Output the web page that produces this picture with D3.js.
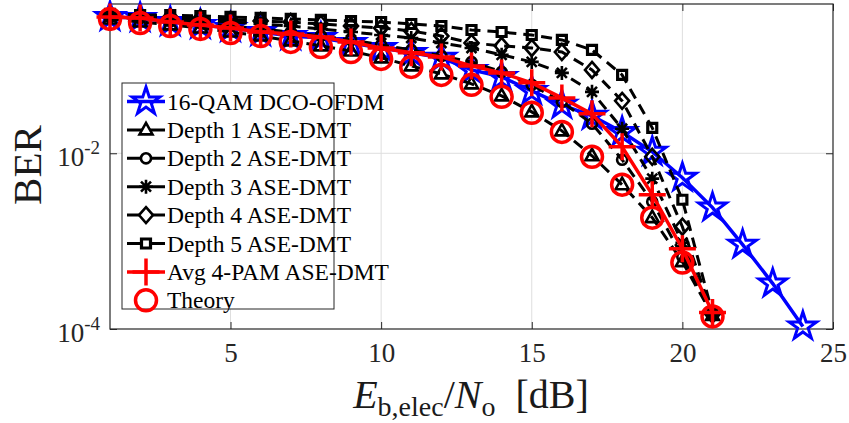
<!DOCTYPE html>
<html>
<head>
<meta charset="utf-8">
<script src="https://cdn.jsdelivr.net/npm/d3@7"></script>
<style>
  body { margin: 0; background: #fff; }
  svg { display: block; font-family: "Liberation Serif", "Times New Roman", serif; }
</style>
</head>
<body>
<svg width="849" height="423"></svg>
<script>
// Eb,elec/No in dB
var snrLong = d3.range(1, 25);   // 1..24 for DCO-OFDM
var snrShort = d3.range(1, 22);  // 1..21 for ASE-DMT / theory

var berDco = [0.356, 0.347, 0.312, 0.289, 0.267, 0.240, 0.216, 0.205, 0.180, 0.158, 0.139, 0.122,
    0.0889, 0.0740, 0.0513, 0.0356, 0.0267, 0.0175, 0.0104, 0.00527, 0.00241, 0.000913, 0.000329, 0.000107];
var berDepth1 = [0.338, 0.312, 0.289, 0.267, 0.240, 0.216, 0.190, 0.167, 0.146, 0.122, 0.0987, 0.0801,
    0.0617, 0.0450, 0.0296, 0.0180, 0.00937, 0.00439, 0.00185, 0.000584, 0.000143];
var berDepth2 = [0.356, 0.347, 0.320, 0.304, 0.281, 0.260, 0.240, 0.216, 0.195, 0.171, 0.150, 0.128,
    0.1096, 0.0844, 0.0601, 0.0385, 0.0217, 0.00844, 0.00281, 0.000666, 0.000146];
var berDepth3 = [0.365, 0.356, 0.338, 0.329, 0.312, 0.296, 0.281, 0.260, 0.240, 0.222, 0.205, 0.180,
    0.158, 0.132, 0.1096, 0.0822, 0.0500, 0.0190, 0.00514, 0.00096, 0.000146];
var berDepth4 = [0.375, 0.365, 0.356, 0.347, 0.329, 0.320, 0.312, 0.296, 0.281, 0.267, 0.247, 0.216,
    0.180, 0.167, 0.158, 0.142, 0.0889, 0.0395, 0.00913, 0.00146, 0.000146];
var berDepth5 = [0.385, 0.375, 0.375, 0.365, 0.356, 0.347, 0.338, 0.329, 0.320, 0.312, 0.296, 0.281,
    0.253, 0.240, 0.222, 0.195, 0.150, 0.0780, 0.0195, 0.00296, 0.000150];
var berAvg = [0.356, 0.347, 0.312, 0.289, 0.267, 0.240, 0.228, 0.211, 0.185, 0.158, 0.139, 0.125,
    0.0987, 0.0822, 0.0633, 0.0427, 0.0281, 0.01186, 0.00338, 0.00082, 0.000154];
var berTheory = [0.338, 0.304, 0.281, 0.260, 0.234, 0.216, 0.185, 0.162, 0.142, 0.1186, 0.0962, 0.0780,
    0.0601, 0.0439, 0.0289, 0.0175, 0.00913, 0.00439, 0.00185, 0.000570, 0.000139];

var xTicks = [5, 10, 15, 20, 25];
var yTicks = [1e-4, 1e-2];

var seriesList = [
    {name: "16-QAM DCO-OFDM",   x: snrLong,  y: berDco,    color: "#0000ff", dash: null,  marker: "star"},
    {name: "Depth 1 ASE-DMT",   x: snrShort, y: berDepth1, color: "#000000", dash: "11,7", marker: "triangle"},
    {name: "Depth 2 ASE-DMT",   x: snrShort, y: berDepth2, color: "#000000", dash: "11,7", marker: "circle"},
    {name: "Depth 3 ASE-DMT",   x: snrShort, y: berDepth3, color: "#000000", dash: "11,7", marker: "asterisk"},
    {name: "Depth 4 ASE-DMT",   x: snrShort, y: berDepth4, color: "#000000", dash: "11,7", marker: "diamond"},
    {name: "Depth 5 ASE-DMT",   x: snrShort, y: berDepth5, color: "#000000", dash: "11,7", marker: "square"},
    {name: "Avg 4-PAM ASE-DMT", x: snrShort, y: berAvg,    color: "#ff0000", dash: null,  marker: "plus"},
    {name: "Theory",            x: snrShort, y: berTheory, color: "#ff0000", dash: null,  marker: "ring", noLine: true}
];

var serif = "Liberation Serif";

// marker shapes, centred on 0,0
var markerPath = function(type) {
    if (type === "star") return d3.symbol(d3.symbolStar, 235)();
    if (type === "triangle") return "M0,-7L6.5,4.5L-6.5,4.5Z";
    if (type === "circle") return d3.symbol(d3.symbolCircle, 80)();
    if (type === "asterisk") return "M-7,0H7M0,-7V7M-5,-5L5,5M-5,5L5,-5";
    if (type === "diamond") return "M0,-8L7,0L0,8L-7,0Z";
    if (type === "square") return "M-4.5,-4.5H4.5V4.5H-4.5Z";
    if (type === "plus") return "M-13.5,0H13.5M0,-13.5V13.5";
    if (type === "ring") return d3.symbol(d3.symbolCircle, 346)();
    return "";
};
var markerWidth = {star: 3, triangle: 2.6, circle: 2.6, asterisk: 2.6, diamond: 2.6, square: 3.2, plus: 3.5, ring: 3.5};

var drawChart = function() {
    let svg = d3.select("body").select("svg");

    let margin = {
        top:    4,
        right:  16,
        bottom: 94, // room for tick labels and the axis title
        left:   110
    };

    let bounds = svg.node().getBoundingClientRect();
    let plotWidth = bounds.width - margin.left - margin.right;
    let plotHeight = bounds.height - margin.top - margin.bottom;

    let xScale = d3.scaleLinear()
        .domain([1, 25])
        .range([0, plotWidth]);

    let yScale = d3.scaleLog()
        .domain([1e-4, 0.5])
        .range([plotHeight, 0]);

    let plot = svg.append("g")
        .attr("id", "plot")
        .attr("transform", "translate(" + margin.left + "," + margin.top + ")");

    // grid
    let grid = plot.append("g").attr("id", "grid");
    grid.selectAll("line.gx")
        .data(xTicks.filter(function(d) { return d < 25; }))
        .enter().append("line")
        .attr("class", "gx")
        .attr("x1", function(d) { return xScale(d); })
        .attr("x2", function(d) { return xScale(d); })
        .attr("y1", 0)
        .attr("y2", plotHeight)
        .attr("stroke", "#dedede")
        .attr("stroke-width", 1);
    grid.selectAll("line.gy")
        .data(yTicks.filter(function(d) { return d > 1e-4; }))
        .enter().append("line")
        .attr("class", "gy")
        .attr("x1", 0)
        .attr("x2", plotWidth)
        .attr("y1", function(d) { return yScale(d); })
        .attr("y2", function(d) { return yScale(d); })
        .attr("stroke", "#dedede")
        .attr("stroke-width", 1);

    // axes, ticks pointing inwards like matlab
    let xAxis = d3.axisBottom(xScale).tickValues(xTicks).tickSizeInner(-7).tickSizeOuter(0).tickPadding(14);
    let xAxisTop = d3.axisTop(xScale).tickValues(xTicks).tickSizeInner(-7).tickSizeOuter(0).tickFormat("");
    let yAxis = d3.axisLeft(yScale).tickValues(yTicks).tickSizeInner(-7).tickSizeOuter(0).tickFormat("");
    let yAxisRight = d3.axisRight(yScale).tickValues(yTicks).tickSizeInner(-7).tickSizeOuter(0).tickFormat("");

    let xGroup = plot.append("g").attr("id", "x-axis")
        .attr("transform", "translate(0," + plotHeight + ")")
        .call(xAxis);
    plot.append("g").call(xAxisTop);
    let yGroup = plot.append("g").attr("id", "y-axis").call(yAxis);
    plot.append("g").attr("transform", "translate(" + plotWidth + ",0)").call(yAxisRight);

    plot.selectAll(".domain").remove();
    plot.selectAll(".tick line").attr("stroke", "#262626").attr("stroke-width", 1);

    xGroup.attr("font-family", serif).attr("font-size", 27);
    xGroup.selectAll(".tick text").attr("fill", "#262626");

    // 10^-k labels
    yGroup.attr("font-family", serif);
    yGroup.selectAll(".tick text").remove();
    yGroup.selectAll(".tick").each(function(d) {
        let t = d3.select(this).append("text")
            .attr("x", -10)
            .attr("y", 12)
            .attr("text-anchor", "end")
            .attr("fill", "#262626")
            .attr("font-size", 27);
        t.append("tspan").text("10");
        t.append("tspan")
            .attr("font-size", 19)
            .attr("dy", -12)
            .text(String(Math.round(Math.log10(d))));
    });

    // box
    plot.append("rect")
        .attr("x", 0)
        .attr("y", 0)
        .attr("width", plotWidth)
        .attr("height", plotHeight)
        .attr("fill", "none")
        .attr("stroke", "#262626")
        .attr("stroke-width", 1.2);

    svg.append("clipPath").attr("id", "clip")
        .append("rect")
        .attr("x", -20).attr("y", -4)
        .attr("width", plotWidth + 40).attr("height", plotHeight + 24);

    let lines = plot.append("g").attr("clip-path", "url(#clip)");
    let line = d3.line()
        .x(function(d) { return xScale(d[0]); })
        .y(function(d) { return yScale(d[1]); });

    seriesList.forEach(function(s) {
        let pts = s.x.map(function(x, i) { return [x, s.y[i]]; });
        if (!s.noLine) {
            lines.append("path")
                .datum(pts)
                .attr("d", line)
                .attr("fill", "none")
                .attr("stroke", s.color)
                .attr("stroke-width", s.dash ? 3 : 3.5)
                .attr("stroke-dasharray", s.dash);
        }
        lines.selectAll("path.m-" + s.marker)
            .data(pts)
            .enter().append("path")
            .attr("class", "m-" + s.marker)
            .attr("d", markerPath(s.marker))
            .attr("transform", function(d) {
                return "translate(" + xScale(d[0]) + "," + yScale(d[1]) + ")";
            })
            .attr("fill", "none")
            .attr("stroke", s.color)
            .attr("stroke-width", markerWidth[s.marker]);
    });

    // legend
    let legend = svg.append("g").attr("id", "legend").attr("transform", "translate(122,83)");
    legend.append("rect")
        .attr("width", 212)
        .attr("height", 226)
        .attr("fill", "#fff")
        .attr("stroke", "#262626")
        .attr("stroke-width", 1);

    let entry = legend.selectAll("g.entry")
        .data(seriesList)
        .enter().append("g")
        .attr("class", "entry")
        .attr("transform", function(d, i) { return "translate(0," + (18.5 + i * 28.4) + ")"; });

    entry.filter(function(d) { return !d.noLine; })
        .append("line")
        .attr("x1", 5)
        .attr("x2", 43)
        .attr("stroke", function(d) { return d.color; })
        .attr("stroke-width", function(d) { return d.dash ? 3 : 3.5; });

    entry.append("path")
        .attr("d", function(d) { return markerPath(d.marker); })
        .attr("transform", "translate(24,0)")
        .attr("fill", function(d) { return d.dash ? "#fff" : "none"; })
        .attr("stroke", function(d) { return d.color; })
        .attr("stroke-width", function(d) { return markerWidth[d.marker]; });

    entry.append("text")
        .attr("x", 45)
        .attr("y", 8)
        .attr("font-size", 23.5)
        .attr("fill", "#000")
        .text(function(d) { return d.name; });

    // axis titles
    svg.append("text")
        .attr("transform", "rotate(-90)")
        .attr("x", -(margin.top + 161))
        .attr("y", 41)
        .attr("text-anchor", "middle")
        .attr("font-size", 41)
        .attr("fill", "#1a1a1a")
        .text("BER");

    let xl = svg.append("text")
        .attr("x", 471)
        .attr("y", 408)
        .attr("text-anchor", "middle")
        .attr("font-size", 40)
        .attr("fill", "#1a1a1a");
    xl.append("tspan").attr("font-style", "italic").text("E");
    xl.append("tspan").attr("font-size", 28).attr("dy", 8).text("b,elec");
    xl.append("tspan").attr("dy", -8).text("/");
    xl.append("tspan").attr("font-style", "italic").text("N");
    xl.append("tspan").attr("font-size", 28).attr("dy", 8).text("o");
    xl.append("tspan").attr("dy", -8).text("\u2002[dB]");
};

drawChart();
</script>
</body>
</html>
